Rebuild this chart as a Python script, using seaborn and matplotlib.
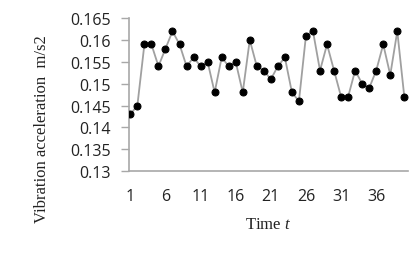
import matplotlib
matplotlib.use("Agg")
import matplotlib.pyplot as plt
import numpy as np
import pandas as pd
import seaborn as sns

# readings
time_t = list(range(1, 41))
accel = [0.143, 0.145, 0.159, 0.159, 0.154, 0.158, 0.162, 0.159, 0.154, 0.156,
         0.154, 0.155, 0.148, 0.156, 0.154, 0.155, 0.148, 0.160, 0.154, 0.153,
         0.151, 0.154, 0.156, 0.148, 0.146, 0.161, 0.162, 0.153, 0.159, 0.153,
         0.147, 0.147, 0.153, 0.150, 0.149, 0.153, 0.159, 0.152, 0.162, 0.147]
x_ticks = [1, 6, 11, 16, 21, 26, 31, 36]
y_ticks = [0.13, 0.135, 0.14, 0.145, 0.15, 0.155, 0.16, 0.165]

df = pd.DataFrame({"t": time_t, "a": accel})

sns.set_style("white")
plt.rcParams["mathtext.fontset"] = "custom"
plt.rcParams["mathtext.it"] = "Liberation Serif:italic"
plt.rcParams["mathtext.rm"] = "Liberation Serif"

fig = plt.figure(figsize=(4.2, 2.55), dpi=100)
ax = fig.add_axes([0.307, 0.325, 0.664, 0.6])

sns.lineplot(data=df, x="t", y="a", ax=ax, color="#a0a0a0", linewidth=1.3,
             marker="o", markersize=5, markerfacecolor="black",
             markeredgecolor="black", zorder=3)

ax.set_xlim(0.8, 40.5)
ax.set_ylim(0.13, 0.165)
ax.set_xticks(x_ticks)
ax.set_yticks(y_ticks)
ax.set_yticklabels([f"{v:g}" for v in y_ticks])
for lbl in ax.get_xticklabels() + ax.get_yticklabels():
    lbl.set_fontfamily("Open Sans")
    lbl.set_fontsize(11.5)
    lbl.set_color("#222222")

for s in ["top", "right"]:
    ax.spines[s].set_visible(False)
for s in ["left", "bottom"]:
    ax.spines[s].set_color("#a8a8a8")
    ax.spines[s].set_linewidth(1.2)
ax.tick_params(axis="y", which="major", left=True, length=6, width=1,
               color="#a8a8a8", pad=7)
ax.tick_params(axis="x", bottom=False, pad=9)
ax.set_xlabel("")
ax.set_ylabel("")

fig.text(0.638, 0.118, "Time $t$", ha="center", va="center",
         fontfamily="Liberation Serif", fontsize=12, color="#222222")
fig.text(0.1, 0.494, "Vibration acceleration  m/s2", ha="center", va="center",
         rotation=90, fontfamily="Liberation Serif", fontsize=12,
         color="#222222")

fig.savefig("out.png", dpi=100)
